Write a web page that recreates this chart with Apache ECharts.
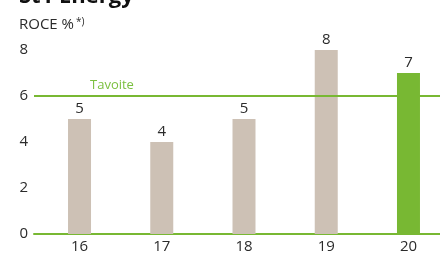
<!DOCTYPE html>
<html>
<head>
<meta charset="utf-8">
<script src="https://cdn.jsdelivr.net/npm/echarts@6/dist/echarts.min.js"></script>
<style>
  html, body { margin: 0; padding: 0; background: #fff; }
  #main { width: 440px; height: 255px; }
</style>
</head>
<body>
<div id="main"></div>
<script>
// data
const years = ['16', '17', '18', '19', '20'];
const roce = [5, 4, 5, 8, 7];
const target = 6;
const targetLabel = 'Tavoite';
const yMin = 0, yMax = 8, yStep = 2;
const highlightYear = '20';

const font = '"Open Sans", "Noto Sans", sans-serif';
const green = '#78b833';
const beige = '#cdc1b5';
const textColor = '#2b2b2b';

var chart = echarts.init(document.getElementById('main'));

chart.setOption({
  animation: false,
  backgroundColor: '#fff',
  textStyle: { fontFamily: font },
  title: [
    {
      // heading is cut off by the top edge in the picture
      text: 'St1 Energy',
      left: 14,
      top: -19,
      textStyle: { fontFamily: font, fontSize: 22, fontWeight: 'bold', color: '#111' }
    },
    {
      text: '{a|ROCE %}{b|*)}',
      left: 14,
      top: 12,
      textStyle: {
        fontWeight: 'normal',
        rich: {
          a: { fontFamily: font, fontSize: 15, fontWeight: 'normal', color: textColor },
          b: { fontFamily: font, fontSize: 10, fontWeight: 'normal', color: textColor, verticalAlign: 'top', padding: [0, 0, 6, 2] }
        }
      }
    }
  ],
  grid: [
    // bars (band runs past the right edge in the picture)
    { left: 38.4, width: 411.2, top: 50, bottom: 21, containLabel: false, outerBoundsMode: 'none' },
    // axis line, y labels and target line
    { left: 34, right: 0, top: 50, bottom: 21, containLabel: false, outerBoundsMode: 'none' }
  ],
  xAxis: [
    {
      type: 'category',
      gridIndex: 0,
      data: years,
      axisLine: { show: false },
      axisTick: { show: false },
      axisLabel: { color: textColor, fontSize: 15, margin: 5, fontFamily: font }
    },
    {
      type: 'value',
      gridIndex: 1,
      min: 0,
      max: 1,
      axisLine: { show: true, onZero: false, lineStyle: { color: green, width: 2 } },
      axisTick: { show: false },
      axisLabel: { show: false },
      splitLine: { show: false }
    }
  ],
  yAxis: [
    {
      type: 'value',
      gridIndex: 0,
      min: yMin, max: yMax, interval: yStep,
      show: false
    },
    {
      type: 'value',
      gridIndex: 1,
      min: yMin, max: yMax, interval: yStep,
      axisLine: { show: false },
      axisTick: { show: false },
      splitLine: { show: false },
      axisLabel: { color: textColor, fontSize: 15, margin: 6, fontFamily: font }
    }
  ],
  series: [
    {
      type: 'bar',
      xAxisIndex: 0,
      yAxisIndex: 0,
      barWidth: 23,
      data: roce.map(function (v, i) {
        return { value: v, itemStyle: { color: years[i] === highlightYear ? green : beige } };
      }),
      label: {
        show: true,
        position: 'top',
        distance: 3,
        color: textColor,
        fontSize: 15,
        fontFamily: font
      },
      z: 2
    },
    {
      type: 'line',
      xAxisIndex: 1,
      yAxisIndex: 1,
      data: [],
      markLine: {
        silent: true,
        symbol: 'none',
        lineStyle: { color: green, width: 2, type: 'solid' },
        label: {
          show: true,
          formatter: targetLabel,
          position: 'insideStartTop',
          distance: [56, 4],
          color: '#7cc040',
          fontSize: 13,
          fontFamily: font
        },
        data: [{ yAxis: target }]
      },
      z: 3
    }
  ]
});
</script>
</body>
</html>
